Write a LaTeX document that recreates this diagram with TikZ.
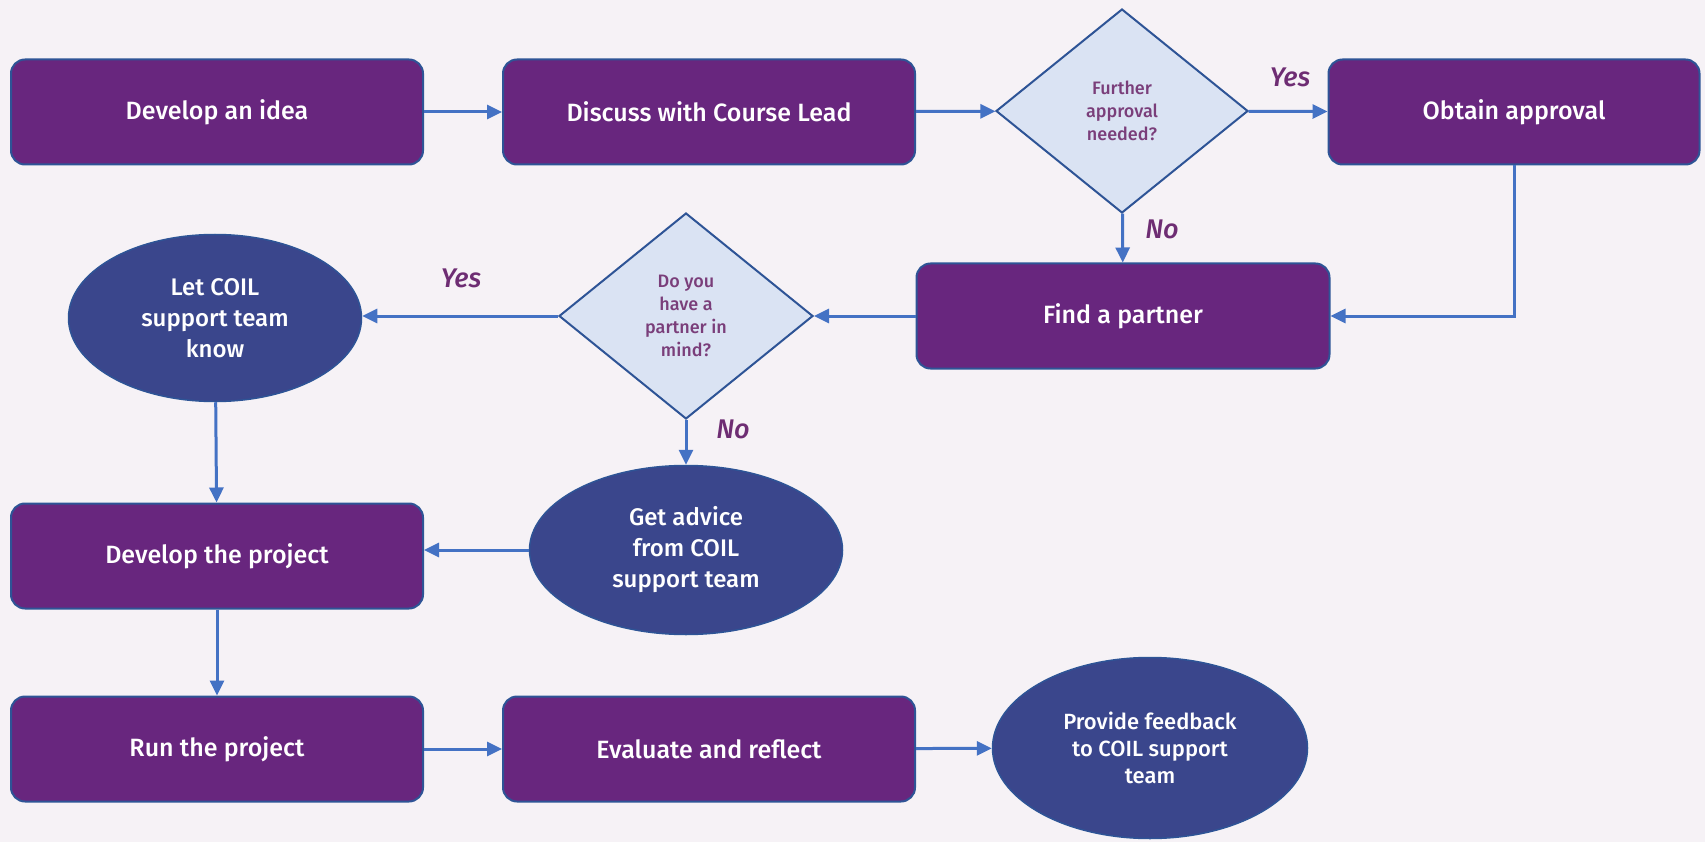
\documentclass[tikz,border=0pt]{standalone}
\usepackage{fontspec}
\IfFontExistsTF{Fira Sans Medium}
  {\setmainfont{Fira Sans}[UprightFont=* Medium,ItalicFont=* Medium Italic]}
  {\setmainfont{Fira Sans}}
\usepackage{xcolor}
\usetikzlibrary{shapes.geometric,arrows.meta}

\definecolor{bgcol}{RGB}{246,242,246}
\definecolor{boxpurple}{RGB}{104,38,126}
\definecolor{ovalblue}{RGB}{58,70,140}
\definecolor{edgeblue}{RGB}{46,84,150}
\definecolor{diafill}{RGB}{218,227,243}
\definecolor{diatext}{RGB}{122,62,122}
\definecolor{arrowblue}{RGB}{68,114,196}
\definecolor{labelpurple}{RGB}{110,45,115}

\tikzset{
  box/.style={rectangle,rounded corners=14pt,draw=edgeblue,line width=2pt,fill=boxpurple,
    text=white,minimum width=412pt,minimum height=105pt,inner sep=0pt,
    font=\fontsize{25}{30}\selectfont},
  oval/.style={ellipse,draw=edgeblue,line width=1.5pt,fill=ovalblue,text=white,
    inner sep=0pt,align=center},
  question/.style={diamond,draw=edgeblue,line width=2pt,fill=diafill,text=diatext,
    inner sep=0pt,align=center,font=\fontsize{18}{23}\selectfont},
  answer/.style={text=labelpurple,font=\fontsize{27}{30}\selectfont\itshape},
  arr/.style={draw=arrowblue,line width=3pt,-{Triangle[length=15pt,width=14pt]}}
}

\begin{document}
\begin{tikzpicture}[x=1pt,y=-1pt]
\fill[bgcol] (0,0) rectangle (1705,842);

\node (1) at (217,112) [box] {Develop an idea};
\node (2) at (709,112) [box] {Discuss with Course Lead};
\node (3) at (1122,111) [question,minimum width=252pt,minimum height=204pt] {Further\\approval\\needed?};
\node (4) at (1514,112) [box,minimum width=371pt] {Obtain approval};
\node (5) at (1123,316) [box,minimum width=413pt] {Find a partner};
\node (6) at (686,316) [question,minimum width=254pt,minimum height=206pt] {Do you\\have a\\partner in\\mind?};
\node (7) at (215,318) [oval,minimum width=293pt,minimum height=167pt,font=\fontsize{24}{31}\selectfont] {Let COIL\\support team\\know};
\node (8) at (686,550) [oval,minimum width=313pt,minimum height=169pt,font=\fontsize{24}{31}\selectfont] {Get advice\\from COIL\\support team};
\node (9) at (217,556) [box] {Develop the project};
\node (10) at (217,749) [box] {Run the project};
\node (11) at (709,749) [box] {Evaluate and reflect};
\node (12) at (1150,748) [oval,minimum width=315pt,minimum height=181pt,font=\fontsize{22}{27}\selectfont] {Provide feedback\\to COIL support\\team};

\node (yes1) at (1290,77) [answer] {Yes};
\node (no1) at (1162,229) [answer] {No};
\node (yes2) at (461,278) [answer] {Yes};
\node (no2) at (733,429) [answer] {No};

\draw[arr] (1) -- (2);
\draw[arr] (2) -- (3);
\draw[arr] (3) -- (4);
\draw[arr] (3) -- (5);
\draw[arr] (4) |- (5);
\draw[arr] (5) -- (6);
\draw[arr] (6) -- (6 -| 7.east);
\draw[arr] (6) -- (8);
\draw[arr] (7) -- (9);
\draw[arr] (8) -- (8 -| 9.east);
\draw[arr] (9) -- (10);
\draw[arr] (10) -- (11);
\draw[arr] (11) -- (12);
\end{tikzpicture}
\end{document}
